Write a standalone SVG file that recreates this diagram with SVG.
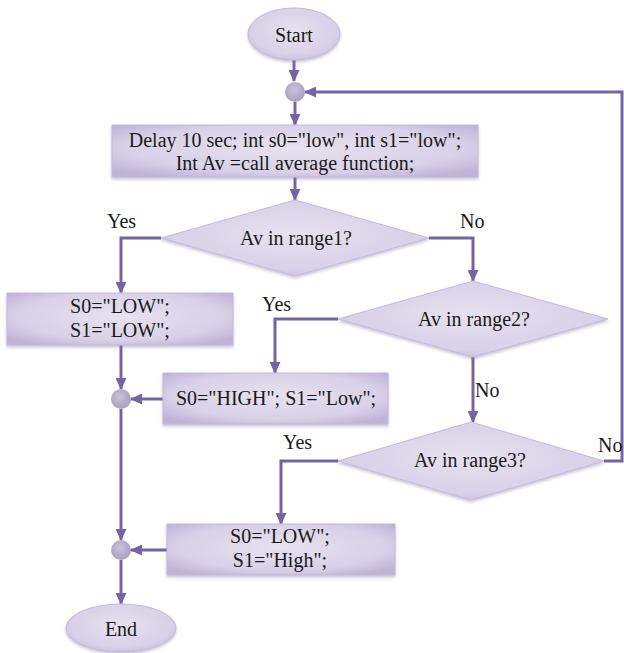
<svg xmlns="http://www.w3.org/2000/svg" width="624" height="653" viewBox="0 0 624 653">
<defs>
<radialGradient id="gFill" cx="50%" cy="45%" r="65%">
<stop offset="0" stop-color="#e6e1f0"/>
<stop offset="0.7" stop-color="#d9d1e8"/>
<stop offset="1" stop-color="#bfb3d6"/>
</radialGradient>
<radialGradient id="gCirc" cx="45%" cy="40%" r="60%">
<stop offset="0" stop-color="#cbc3da"/>
<stop offset="1" stop-color="#a99ebf"/>
</radialGradient>
<filter id="soft" x="-10%" y="-10%" width="120%" height="130%">
<feGaussianBlur in="SourceAlpha" stdDeviation="1.5"/>
<feOffset dx="0" dy="1.5" result="b"/>
<feFlood flood-color="#8c80a8" flood-opacity="0.45"/>
<feComposite in2="b" operator="in"/>
<feMerge><feMergeNode/><feMergeNode in="SourceGraphic"/></feMerge>
</filter>
<marker id="arr" markerUnits="userSpaceOnUse" markerWidth="12" markerHeight="11" refX="11" refY="5.5" orient="auto">
<path d="M0,0 L12,5.5 L0,11 Z" fill="#7464a2"/>
</marker>
</defs>
<style>
.shape{fill:url(#gFill);stroke:#c4badb;stroke-width:1;filter:url(#soft)}
.circ{fill:url(#gCirc);stroke:none}
text{font-family:'Liberation Serif','Times New Roman','DejaVu Serif',serif;font-size:20px;fill:#1a1a1a}
.t{text-anchor:middle}
.c{fill:none;stroke:#7464a2;stroke-width:3;stroke-linejoin:miter}
</style>

<g id="connectors">
<line class="c" x1="294" y1="60" x2="294" y2="81" marker-end="url(#arr)"/>
<line class="c" x1="295" y1="102" x2="295" y2="125" marker-end="url(#arr)"/>
<line class="c" x1="295" y1="177" x2="295" y2="200" marker-end="url(#arr)"/>
<polyline class="c" points="161,238 121,238 121,293" marker-end="url(#arr)"/>
<polyline class="c" points="429,238 473,238 473,281" marker-end="url(#arr)"/>
<line class="c" x1="121" y1="345" x2="121" y2="389" marker-end="url(#arr)"/>
<polyline class="c" points="338,319 275,319 275,373" marker-end="url(#arr)"/>
<line class="c" x1="163" y1="399" x2="131" y2="399" marker-end="url(#arr)"/>
<line class="c" x1="473" y1="357" x2="473" y2="422" marker-end="url(#arr)"/>
<line class="c" x1="121" y1="409" x2="121" y2="540" marker-end="url(#arr)"/>
<polyline class="c" points="338,461 281,461 281,524" marker-end="url(#arr)"/>
<line class="c" x1="167" y1="550" x2="131" y2="550" marker-end="url(#arr)"/>
<line class="c" x1="121" y1="560" x2="121" y2="604" marker-end="url(#arr)"/>
<polyline class="c" points="604,461 622,461 622,92 305,92" marker-end="url(#arr)"/>
</g>

<g id="start">
<ellipse class="shape" cx="294" cy="34" rx="46" ry="26"/>
<text class="t" x="294" y="42" font-family="Liberation Serif">Start</text>
</g>
<g id="junction1"><circle class="circ" cx="295" cy="92" r="10"/></g>
<g id="init">
<rect class="shape" x="112" y="125" width="366" height="52"/>
<text class="t" x="295" y="147">Delay 10 sec; int s0="low", int s1="low";</text>
<text class="t" x="295" y="170">Int Av =call average function;</text>
</g>
<g id="range1">
<polygon class="shape" points="161,238 295,200 429,238 295,276"/>
<text class="t" x="296" y="245">Av in range1?</text>
</g>
<g id="low-low">
<rect class="shape" x="7" y="293" width="226" height="52"/>
<text class="t" x="120" y="313">S0="LOW";</text>
<text class="t" x="120" y="337">S1="LOW";</text>
</g>
<g id="range2">
<polygon class="shape" points="338,319 473,281 608,319 473,357"/>
<text class="t" x="474" y="326">Av in range2?</text>
</g>
<g id="high-low">
<rect class="shape" x="163" y="373" width="225" height="51"/>
<text class="t" x="276" y="405">S0="HIGH"; S1="Low";</text>
</g>
<g id="junction2"><circle class="circ" cx="121" cy="399" r="10"/></g>
<g id="range3">
<polygon class="shape" points="338,461 471,422 604,461 471,500"/>
<text class="t" x="470" y="467">Av in range3?</text>
</g>
<g id="low-high">
<rect class="shape" x="167" y="524" width="228" height="51"/>
<text class="t" x="280" y="543">S0="LOW";</text>
<text class="t" x="280" y="567">S1="High";</text>
</g>
<g id="junction3"><circle class="circ" cx="121" cy="550" r="10"/></g>
<g id="end">
<ellipse class="shape" cx="121" cy="628" rx="55" ry="24"/>
<text class="t" x="121" y="636">End</text>
</g>
<g id="labels">
<text x="107" y="228">Yes</text>
<text x="460" y="228">No</text>
<text x="262" y="311">Yes</text>
<text x="475" y="397">No</text>
<text x="283" y="449">Yes</text>
<text x="598" y="452">No</text>
</g>
</svg>
